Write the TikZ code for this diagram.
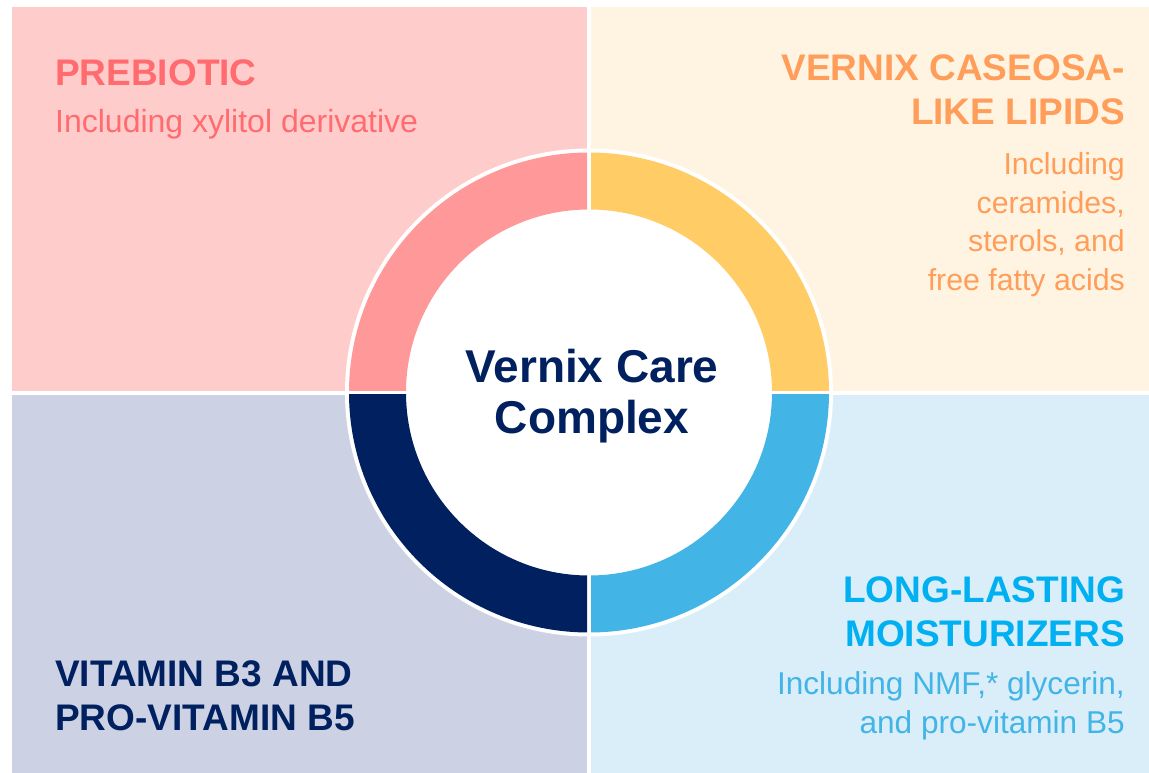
\documentclass[tikz,border=0pt]{standalone}
\usepackage{fontspec}
\setmainfont{Liberation Sans}
\definecolor{pinkbg}{HTML}{FFCCCC}
\definecolor{pinkring}{HTML}{FF9999}
\definecolor{pinktext}{HTML}{FF6B6E}
\definecolor{creambg}{HTML}{FFF4E1}
\definecolor{creamring}{HTML}{FFCC66}
\definecolor{creamtext}{HTML}{FF9E5A}
\definecolor{navybg}{HTML}{CCD2E3}
\definecolor{navyring}{HTML}{00205F}
\definecolor{navytext}{HTML}{002060}
\definecolor{bluebg}{HTML}{DAEEF9}
\definecolor{bluering}{HTML}{42B5E6}
\definecolor{bluehead}{HTML}{00B0F0}
\begin{document}
\begin{tikzpicture}[x=1pt,y=-1pt,
    head/.style={inner sep=0pt, font=\fontsize{37}{44}\selectfont\bfseries},
    sub/.style={inner sep=0pt, font=\fontsize{#1}{38.5}\selectfont}]
    \useasboundingbox (0,0) rectangle (1149,773);
    % centre of the ring
    \coordinate (O) at (589,392.5);

    % top left quarter
    \begin{scope}
        \clip (12,7) rectangle (587,390.5);
        \fill[pinkbg] (12,7) rectangle (587,390.5);
        \fill[white] (O) circle (244);
        \fill[pinkring, even odd rule] (O) circle (240) circle (183);
    \end{scope}
    % top right quarter
    \begin{scope}
        \clip (591,7) rectangle (1149,390.5);
        \fill[creambg] (591,7) rectangle (1149,390.5);
        \fill[white] (O) circle (244);
        \fill[creamring, even odd rule] (O) circle (240) circle (183);
    \end{scope}
    % bottom left quarter
    \begin{scope}
        \clip (12,394.5) rectangle (587,773);
        \fill[navybg] (12,394.5) rectangle (587,773);
        \fill[white] (O) circle (244);
        \fill[navyring, even odd rule] (O) circle (240) circle (183);
    \end{scope}
    % bottom right quarter
    \begin{scope}
        \clip (591,394.5) rectangle (1149,773);
        \fill[bluebg] (591,394.5) rectangle (1149,773);
        \fill[white] (O) circle (244);
        \fill[bluering, even odd rule] (O) circle (240) circle (183);
    \end{scope}

    % texts (base = last line)
    \node (prebiotic) [head, text=pinktext, anchor=base west] at (55,86) {PREBIOTIC};
    \node (prebioticsub) [sub=32, text=pinktext, anchor=base west] at (55,133) {Including xylitol derivative};

    \node (lipids) [head, text=creamtext, anchor=base east, align=right] at (1125,125) {VERNIX CASEOSA-\\LIKE LIPIDS};
    \node (lipidssub) [sub=30.3, text=creamtext, anchor=base east, align=right] at (1125,290) {Including\\ceramides,\\sterols, and\\free fatty acids};

    \node (vitamin) [head, text=navytext, anchor=base west, align=left] at (55,730) {VITAMIN B3 AND\\PRO-VITAMIN B5};

    \node (moist) [head, text=bluehead, anchor=base east, align=right] at (1125,646) {LONG-LASTING\\MOISTURIZERS};
    \node (moistsub) [sub=31.6, text=bluering, anchor=base east, align=right] at (1125,733) {Including NMF,* glycerin,\\and pro-vitamin B5};

    \node (complex) [inner sep=0pt, font=\fontsize{46}{51}\selectfont\bfseries, text=navytext, align=center] at (592,396) {Vernix Care\\Complex};
\end{tikzpicture}
\end{document}
